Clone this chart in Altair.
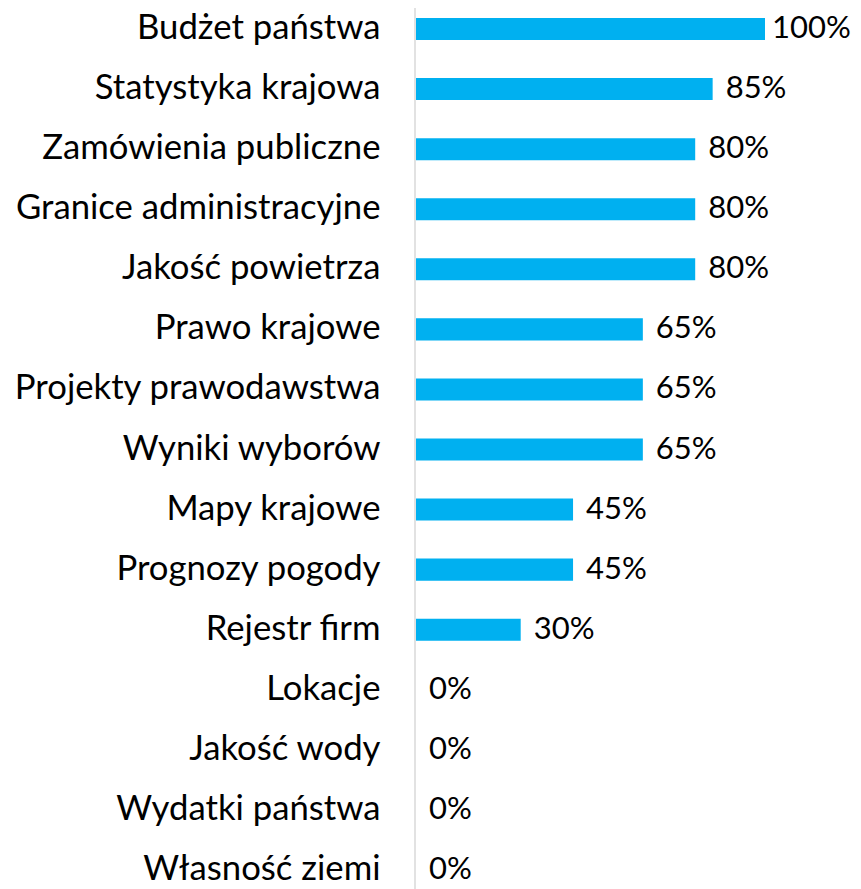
import altair as alt
import pandas as pd

categories = [
    "Budżet państwa", "Statystyka krajowa", "Zamówienia publiczne",
    "Granice administracyjne", "Jakość powietrza", "Prawo krajowe",
    "Projekty prawodawstwa", "Wyniki wyborów", "Mapy krajowe",
    "Prognozy pogody", "Rejestr firm", "Lokacje", "Jakość wody",
    "Wydatki państwa", "Własność ziemi",
]
values = [1.00, 0.85, 0.80, 0.80, 0.80, 0.65, 0.65, 0.65, 0.45, 0.45, 0.30, 0.0, 0.0, 0.0, 0.0]

df = pd.DataFrame({"cat": categories, "val": values})

FONT = "Lato"
H = 882

y_enc = alt.Y(
    "cat:N", sort=categories, title=None,
    scale=alt.Scale(range=[10, 873], paddingInner=0.633, paddingOuter=0),
    axis=alt.Axis(
        ticks=False, domain=False,
        labelPadding=36, labelFont=FONT, labelFontSize=34.7,
        labelColor="#000000", labelLimit=500,
    ),
)
x_enc = alt.X("val:Q", scale=alt.Scale(domain=[0, 1]), axis=None)

axis_line = alt.Chart(pd.DataFrame({"a": [0]})).mark_rule(
    color="#d9d9d9", strokeWidth=1.5
).encode(x=alt.value(-1), y=alt.value(0), y2=alt.value(H))

bars = alt.Chart(df).mark_bar(color="#00B0F0").encode(x=x_enc, y=y_enc)

text_kw = dict(align="left", baseline="middle", font=FONT, fontSize=31, color="#000000")
labels = alt.Chart(df).transform_filter("datum.val < 1").mark_text(dx=13, **text_kw).encode(
    x=x_enc, y=y_enc, text=alt.Text("val:Q", format=".0%"))
labels_full = alt.Chart(df).transform_filter("datum.val >= 1").mark_text(dx=7, **text_kw).encode(
    x=x_enc, y=y_enc, text=alt.Text("val:Q", format=".0%"))

chart = (
    (axis_line + bars + labels + labels_full)
    .properties(
        width=349, height=H,
        autosize=alt.AutoSizeParams(type="none"),
        padding={"left": 408, "top": 0, "right": 88, "bottom": 0},
    )
    .configure_view(stroke=None)
)

chart.save("out.html", embed_options={"renderer": "svg", "actions": False})
